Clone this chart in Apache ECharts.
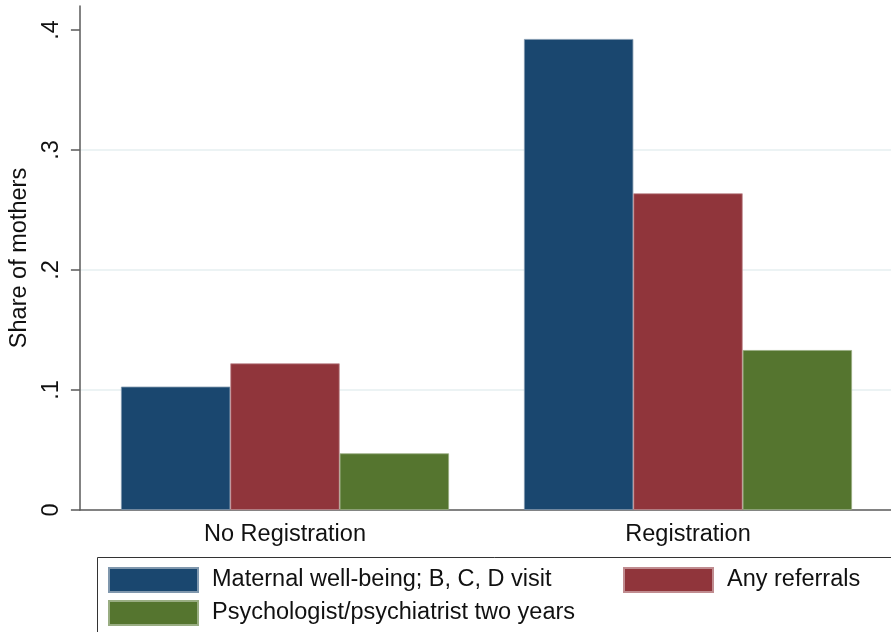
<!DOCTYPE html>
<html>
<head>
<meta charset="utf-8">
<script src="https://cdn.jsdelivr.net/npm/echarts@6/dist/echarts.min.js"></script>
<style>
html,body{margin:0;padding:0;background:#fff;}
#chart{width:891px;height:632px;}
</style>
</head>
<body>
<div id="chart"></div>
<script>
var categories = ['No Registration', 'Registration'];
var seriesNames = ['Maternal well-being; B, C, D visit', 'Any referrals', 'Psychologist/psychiatrist two years'];
var maternalWellBeing = [0.1028, 0.3925];
var anyReferrals = [0.1222, 0.2639];
var psychologist = [0.0472, 0.1333];
var yTicks = [0, 0.1, 0.2, 0.3, 0.4];

var colors = ['#1a476f', '#90353b', '#55752f'];
var borders = ['#7f97ad', '#c08c90', '#99ad82'];
var FONT = 'Liberation Sans, Arial, sans-serif';
var FS = 23.5;

function fmt(v){
  if (v === 0) return '0';
  return v.toFixed(1).replace(/^0/, '');
}

var chart = echarts.init(document.getElementById('chart'), null, {renderer:'canvas'});
var values = [maternalWellBeing, anyReferrals, psychologist];

var option = {
  animation: false,
  backgroundColor: '#ffffff',
  textStyle: {fontFamily: FONT},
  grid: [
    {left: 83.5, width: 806, top: 6, bottom: 122},
    {left: 74, right: 0, top: 6, bottom: 122}
  ],
  xAxis: [
    {
      type: 'category', gridIndex: 0, data: categories,
      axisLine: {show: false}, axisTick: {show: false},
      axisLabel: {fontSize: FS, color: '#111', fontFamily: FONT, margin: 13}
    },
    {
      type: 'value', gridIndex: 1, min: 0, max: 1,
      axisLine: {show: true, lineStyle: {color: '#5a5a5a', width: 1.5}},
      axisTick: {show: false}, axisLabel: {show: false}, splitLine: {show: false}
    }
  ],
  yAxis: [
    {type: 'value', gridIndex: 0, min: 0, max: 0.42, show: false},
    {
      type: 'value', gridIndex: 1, min: 0, max: 0.42, interval: 0.1,
      name: 'Share of mothers', nameLocation: 'middle', nameGap: 39, nameRotate: 90,
      nameTextStyle: {fontSize: FS, color: '#111', fontFamily: FONT},
      axisLine: {show: true, lineStyle: {color: '#5a5a5a', width: 1.5}},
      axisTick: {show: true, length: 9, customValues: yTicks, lineStyle: {color: '#5a5a5a', width: 1.5}},
      axisLabel: {show: true, rotate: 90, margin: 16, customValues: yTicks, fontSize: FS, color: '#111', fontFamily: FONT, formatter: fmt},
      splitLine: {show: true, showMinLine: false, showMaxLine: false, lineStyle: {color: '#e6eff1', width: 1.5}}
    }
  ],
  legend: [0, 1, 2].map(function(i){
    var pos = [[108, 567], [623, 567], [108, 600]][i];
    return {
      data: [seriesNames[i]], left: pos[0], top: pos[1], padding: 0,
      itemWidth: 89, itemHeight: 24, icon: 'rect', selectedMode: false,
      textStyle: {fontSize: FS, color: '#111', fontFamily: FONT, padding: [0, 0, 0, 9]}
    };
  }),
  graphic: [{
    type: 'rect', shape: {x: 97.5, y: 557.5, width: 820, height: 90},
    style: {fill: 'none', stroke: '#333', lineWidth: 1}, silent: true
  }],
  series: values.map(function(v, i){
    return {
      name: seriesNames[i], type: 'bar', xAxisIndex: 0, yAxisIndex: 0,
      data: v, barGap: '0%', barCategoryGap: '18.6%',
      itemStyle: {color: colors[i], borderColor: borders[i], borderWidth: 0.8}
    };
  })
};
chart.setOption(option);
</script>
</body>
</html>
